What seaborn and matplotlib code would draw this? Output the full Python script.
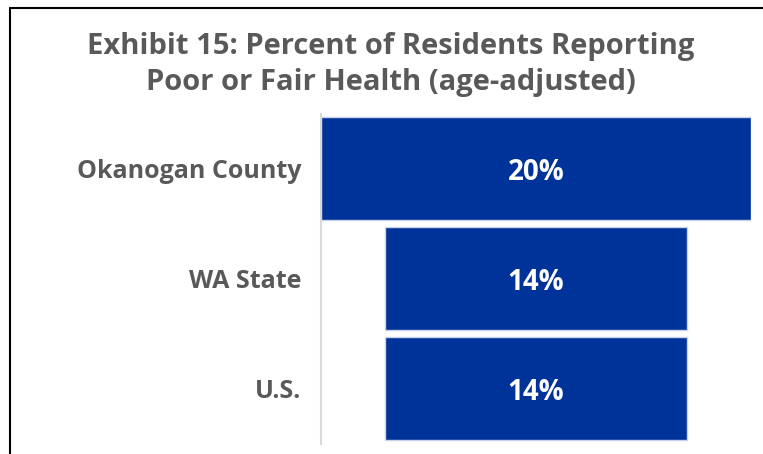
import matplotlib
matplotlib.use("Agg")
import matplotlib.pyplot as plt
import seaborn as sns
import pandas as pd
from matplotlib.lines import Line2D

# Data
areas = ["Okanogan County", "WA State", "U.S."]
pct_poor_fair = [20, 14, 14]
value_labels = ["20%", "14%", "14%"]

sns.set_theme(style="white")
plt.rcParams['font.family'] = ['Open Sans', 'DejaVu Sans']

df = pd.DataFrame({"area": areas, "pct": pct_poor_fair})

fig = plt.figure(figsize=(7.63, 4.54), dpi=100)
ax = fig.add_axes([0.4207, 0.0231, 0.5636, 0.7269])

sns.barplot(data=df, x="pct", y="area", color="#003399", width=0.935,
            edgecolor="#c8d2ea", linewidth=1, saturation=1, ax=ax)

# center each bar on the widest one (funnel look)
max_val = max(pct_poor_fair)
for patch, v, lab in zip(ax.patches, pct_poor_fair, value_labels):
    patch.set_x((max_val - v) / 2)
    ax.text(max_val / 2, patch.get_y() + patch.get_height() / 2, lab,
            ha="center", va="center_baseline", color="white", fontsize=20,
            fontweight="bold")

ax.set_xlim(0, max_val)
ax.set_ylim(2.5, -0.5)
ax.set_xlabel("")
ax.set_ylabel("")
ax.set_xticks([])
ax.tick_params(axis="y", length=0, pad=14)
for t in ax.get_yticklabels():
    t.set_fontsize(18)
    t.set_fontweight("bold")
    t.set_color("#595959")
    t.set_verticalalignment("center_baseline")

for s in ["top", "right", "bottom"]:
    ax.spines[s].set_visible(False)
ax.spines["left"].set_color("#d9d9d9")
ax.spines["left"].set_linewidth(1.5)

fig.text(0.512, 0.858, "Exhibit 15: Percent of Residents Reporting\nPoor or Fair Health (age-adjusted)",
         ha="center", va="center", fontsize=21, fontweight="bold",
         color="#595959", linespacing=1.28)

# outer frame lines (top and left)
fig.add_artist(Line2D([10 / 763, 1], [1 - 8 / 454, 1 - 8 / 454],
                      transform=fig.transFigure, color="black", lw=1.5))
fig.add_artist(Line2D([10 / 763, 10 / 763], [0, 1 - 8 / 454],
                      transform=fig.transFigure, color="black", lw=1.5))

fig.savefig("out.png", dpi=100)
